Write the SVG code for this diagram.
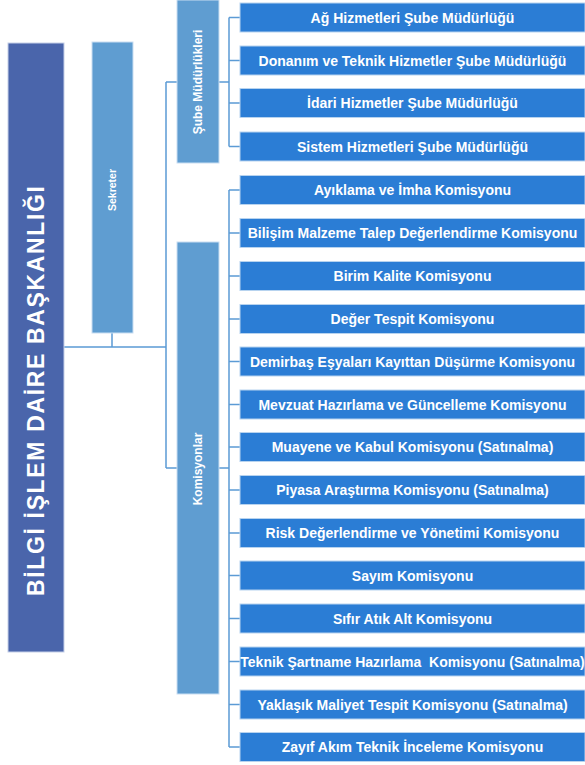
<svg xmlns="http://www.w3.org/2000/svg" width="585" height="765" viewBox="0 0 585 765">
<style>
.main{fill:#4a65ab;stroke:#c5d0e8;stroke-width:1}
.grp{fill:#5f9dd1;stroke:#c9def2;stroke-width:1}
.row{fill:#2b7dd5;stroke:#b7d3ef;stroke-width:1}
.t{font-family:"Liberation Sans",Arial,sans-serif;font-weight:bold;fill:#ffffff;text-anchor:middle}
.rt{font-size:14px}
.con{fill:none;stroke:#5b9bd5;stroke-width:1.5}
</style>
<rect width="585" height="765" fill="#ffffff"/>
<g id="connectors">
<path class="con" d="M64,347 H166 M112,333 V347 M166,82 V468 M166,82 H177 M166,468 H177"/>
<path class="con" d="M219,82 H229 M229,17.5 V146.5 M229,17.5 H240 M229,60.5 H240 M229,103 H240 M229,146.5 H240"/>
<path class="con" d="M219,468 H229 M229,190 V747 M229,190 H240 M229,233 H240 M229,276 H240 M229,319 H240 M229,361.5 H240 M229,404.5 H240 M229,447 H240 M229,490 H240 M229,533 H240 M229,575.5 H240 M229,618.5 H240 M229,661.5 H240 M229,704.5 H240 M229,747 H240"/>
</g>
<g id="baskanlik">
<rect class="main" x="8" y="43" width="56" height="609"/>
<text class="t" transform="translate(44,391) rotate(-90)" font-size="23" textLength="410" lengthAdjust="spacing">BİLGİ İŞLEM DAİRE BAŞKANLIĞI</text>
</g>
<g id="sekreter">
<rect class="grp" x="92" y="42" width="41" height="291"/>
<text class="t" transform="translate(116,190) rotate(-90)" font-size="10.5">Sekreter</text>
</g>
<g id="sube">
<rect class="grp" x="177" y="0" width="42" height="163"/>
<text class="t" transform="translate(202,82) rotate(-90)" font-size="12">Şube Müdürlükleri</text>
</g>
<g id="komisyonlar">
<rect class="grp" x="177" y="242" width="42" height="452"/>
<text class="t" transform="translate(202,469) rotate(-90)" font-size="12">Komisyonlar</text>
</g>
<g id="s1"><rect class="row" x="240" y="3" width="345" height="29"/><text class="t rt" x="412.5" y="22.5">Ağ Hizmetleri Şube Müdürlüğü</text></g>
<g id="s2"><rect class="row" x="240" y="46" width="345" height="29"/><text class="t rt" x="412.5" y="65.5">Donanım ve Teknik Hizmetler Şube Müdürlüğü</text></g>
<g id="s3"><rect class="row" x="240" y="88.5" width="345" height="29"/><text class="t rt" x="412.5" y="108">İdari Hizmetler Şube Müdürlüğü</text></g>
<g id="s4"><rect class="row" x="240" y="132" width="345" height="29"/><text class="t rt" x="412.5" y="151.5">Sistem Hizmetleri Şube Müdürlüğü</text></g>
<g id="k1"><rect class="row" x="240" y="175.5" width="345" height="29"/><text class="t rt" x="412.5" y="195">Ayıklama ve İmha Komisyonu</text></g>
<g id="k2"><rect class="row" x="240" y="218.5" width="345" height="29"/><text class="t rt" x="412.5" y="238">Bilişim Malzeme Talep Değerlendirme Komisyonu</text></g>
<g id="k3"><rect class="row" x="240" y="261.5" width="345" height="29"/><text class="t rt" x="412.5" y="281">Birim Kalite Komisyonu</text></g>
<g id="k4"><rect class="row" x="240" y="304.5" width="345" height="29"/><text class="t rt" x="412.5" y="324">Değer Tespit Komisyonu</text></g>
<g id="k5"><rect class="row" x="240" y="347" width="345" height="29"/><text class="t rt" x="412.5" y="366.5">Demirbaş Eşyaları Kayıttan Düşürme Komisyonu</text></g>
<g id="k6"><rect class="row" x="240" y="390" width="345" height="29"/><text class="t rt" x="412.5" y="409.5">Mevzuat Hazırlama ve Güncelleme Komisyonu</text></g>
<g id="k7"><rect class="row" x="240" y="432.5" width="345" height="29"/><text class="t rt" x="412.5" y="452">Muayene ve Kabul Komisyonu (Satınalma)</text></g>
<g id="k8"><rect class="row" x="240" y="475.5" width="345" height="29"/><text class="t rt" x="412.5" y="495">Piyasa Araştırma Komisyonu (Satınalma)</text></g>
<g id="k9"><rect class="row" x="240" y="518.5" width="345" height="29"/><text class="t rt" x="412.5" y="538">Risk Değerlendirme ve Yönetimi Komisyonu</text></g>
<g id="k10"><rect class="row" x="240" y="561" width="345" height="29"/><text class="t rt" x="412.5" y="580.5">Sayım Komisyonu</text></g>
<g id="k11"><rect class="row" x="240" y="604" width="345" height="29"/><text class="t rt" x="412.5" y="623.5">Sıfır Atık Alt Komisyonu</text></g>
<g id="k12"><rect class="row" x="240" y="647" width="345" height="29"/><text class="t rt" x="412.5" y="666.5" style="white-space:pre">Teknik Şartname Hazırlama  Komisyonu (Satınalma)</text></g>
<g id="k13"><rect class="row" x="240" y="690" width="345" height="29"/><text class="t rt" x="412.5" y="709.5">Yaklaşık Maliyet Tespit Komisyonu (Satınalma)</text></g>
<g id="k14"><rect class="row" x="240" y="732.5" width="345" height="29"/><text class="t rt" x="412.5" y="752">Zayıf Akım Teknik İnceleme Komisyonu</text></g>
</svg>
